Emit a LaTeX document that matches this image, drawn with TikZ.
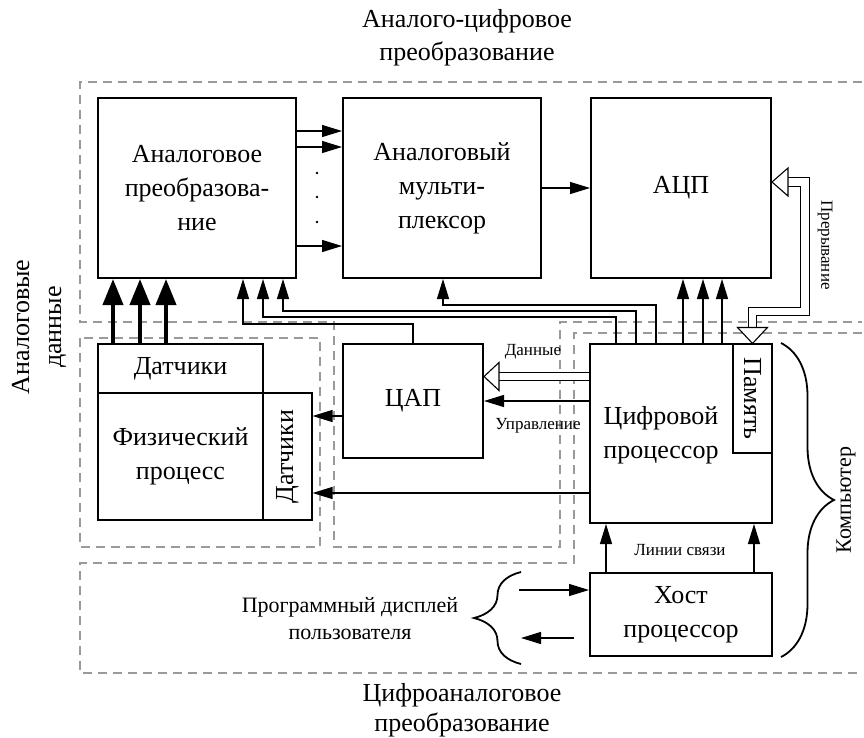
\documentclass[tikz,border=0pt]{standalone}
\usepackage{fontspec}
\setmainfont{Liberation Serif}
\usetikzlibrary{arrows.meta,calc,decorations.pathreplacing}
\definecolor{zonegray}{HTML}{9A9A9A}

\begin{document}
\begin{tikzpicture}[x=1pt,y=-1pt,
  blk/.style={draw,line width=2pt,align=center,font=\fontsize{26}{34}\selectfont},
  thinblk/.style={draw,line width=1.1pt,font=\fontsize{26}{30}\selectfont},
  lbl/.style={font=\fontsize{17}{20}\selectfont},
  region/.style={zonegray,dashed,line width=1.3pt,dash pattern=on 9pt off 6pt},
  arr/.style={line width=1.3pt,-{Triangle[length=20pt,width=12pt]}},
  fatarr/.style={line width=4pt,-{Triangle[length=26pt,width=20pt]}},
  hollow/.style={double,double distance=7.6pt,line width=1.1pt},
  tiphead/.style={draw,fill=white,line width=1.1pt},
  brc/.style={line width=1.8pt,decorate}]
  \useasboundingbox (0,0) rectangle (864,737);

  % Dashed regions
  \draw[region] (862,82) -- (80,82) -- (80,322) -- (334,322) -- (334,547) -- (560,547) -- (560,322) -- (862,322);
  \draw[region] (80,338) rectangle (320,547);
  \draw[region] (862,333) -- (574,333) -- (574,563) -- (80,563) -- (80,673) -- (862,673);

  % Upper row: conversion chain
  \node[blk,minimum width=198,minimum height=180] (ap) at (197,188) {Аналоговое\\преобразова-\\ние};
  \node[blk,minimum width=198,minimum height=180] (mux) at (442,188) {Аналоговый\\мульти-\\плексор};
  \node[blk,minimum width=180,minimum height=180] (adc) at (681,188) {АЦП};

  % Physical process with sensors
  \node[thinblk,minimum width=165,minimum height=49] (dsens) at (180.5,368.5) {Датчики};
  \node[thinblk,minimum width=49,minimum height=127,
    label={[rotate=90,font=\fontsize{26}{30}\selectfont]center:Датчики}] (ssens) at (287.5,456.5) {};
  \node[blk,minimum width=165,minimum height=127] (phys) at (180.5,456.5) {Физический\\процесс};

  % DAC
  \node[blk,minimum width=140,minimum height=114] (dac) at (413,401) {ЦАП};

  % Computer
  \node[blk,minimum width=182,minimum height=179] (dsp) at (681,433.5) {};
  \node[thinblk,minimum width=39,minimum height=109,
    label={[rotate=-90,font=\fontsize{26}{30}\selectfont]center:Память}] (mem) at (752.5,398.5) {};
  \node[font=\fontsize{26}{34}\selectfont,align=center] (dsptxt) at (661,435) {Цифровой\\процессор};
  \node[blk,minimum width=182,minimum height=83] (host) at (681,614.5) {Хост\\процессор};

  % Texts
  \node[font=\fontsize{26}{33}\selectfont,align=center] (adctitle) at (467,38) {Аналого-цифровое\\преобразование};
  \node[font=\fontsize{26}{30}\selectfont,align=center] (dactitle) at (462,710) {Цифроаналоговое\\преобразование};
  \node[font=\fontsize{26}{32}\selectfont,align=center,rotate=90] (anatitle) at (39,327) {Аналоговые\\данные};
  \node[lbl] (datalbl) at (533,352) {Данные};
  \node[lbl] (ctrllbl) at (538,426) {Управление};
  \node[lbl] (linklbl) at (680,550) {Линии связи};
  \node[lbl,rotate=-90] (irqlbl) at (825,245) {Прерывание};
  \node[font=\fontsize{22}{26}\selectfont,rotate=90] (pclbl) at (846,500) {Компьютер};
  \node[font=\fontsize{22}{27}\selectfont,align=center] (uilbl) at (350,619) {Программный дисплей\\пользователя};

  % Channels into the multiplexer
  \foreach \s in {57,41,-58}
    \draw[arr] ([yshift=\s pt]ap.east) -- ([yshift=\s pt]ap.east -| mux.west);
  \foreach \d in {173,197,222}
    \fill (317,\d) circle (1.3pt);
  \draw[arr] (mux.east) -- (adc.west);

  % Sensors up
  \foreach \x in {113,140,166}
    \draw[fatarr] (\x,0 |- dsens.north) -- (\x,0 |- ap.south);

  % Processor to ADC
  \foreach \x in {683,703,722}
    \draw[arr] (\x,0 |- dsp.north) -- (\x,0 |- adc.south);

  % Control lines back to the upper row
  \draw[arr] (656,0 |- dsp.north) |- (443,305) -- (443,0 |- mux.south);
  \draw[arr] (636,0 |- dsp.north) |- (283,311) -- (283,0 |- ap.south);
  \draw[arr] (616,0 |- dsp.north) |- (263,317) -- (263,0 |- ap.south);
  \draw[arr] (dac.north) |- (243,324) -- (243,0 |- ap.south);

  % Outputs to the process
  \draw[arr] ([yshift=-15pt]dac.west) -- ([yshift=-15pt]dac.west -| ssens.east);
  \draw[arr] ([yshift=-59.5pt]dsp.west) -- ([yshift=-59.5pt]dsp.west -| ssens.east);
  \draw[arr] ([yshift=32.5pt]dsp.west) -- ([yshift=32.5pt]dsp.west -| dac.east);

  % Data bus to DAC
  \draw[hollow] ([yshift=24.5pt]dac.east -| dsp.west) -- ([xshift=15pt,yshift=24.5pt]dac.east);
  \draw[tiphead] ([yshift=24.5pt]dac.east) -- ++(15,-14) -- ++(0,28) -- cycle;

  % Interrupt bus
  \coordinate (irqbend) at (805,311.5);
  \draw[hollow] ([xshift=16pt,yshift=6pt]adc.east) -| (irqbend) -| ([yshift=16pt]mem.north);
  \draw[tiphead] ([yshift=6pt]adc.east) -- ++(16,-14) -- ++(0,28) -- cycle;
  \draw[tiphead] (mem.north) -- ++(-15,-16) -- ++(30,0) -- cycle;

  % Host links
  \foreach \x in {606,754}
    \draw[arr] (\x,0 |- host.north) -- (\x,0 |- dsp.south);
  \draw[arr] ([xshift=-70pt,yshift=24.5pt]host.west) -- ([yshift=24.5pt]host.west);
  \draw[arr] ([xshift=-15pt,yshift=-23.5pt]host.west) -- ([xshift=-68pt,yshift=-23.5pt]host.west);

  % Braces
  \draw[brc,decoration={brace,amplitude=47pt}] ([xshift=-68pt,yshift=-7pt]host.south west) -- ([xshift=-68pt]host.north west);
  \draw[brc,decoration={brace,amplitude=53pt}] ([xshift=8pt]dsp.north east) -- ([xshift=8pt]host.south east);
\end{tikzpicture}
\end{document}
